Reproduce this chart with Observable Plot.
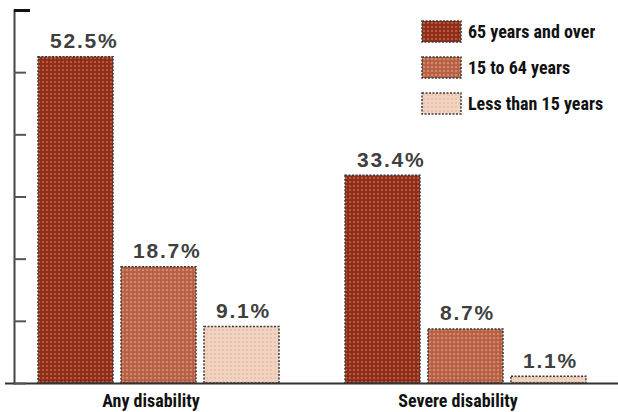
<!DOCTYPE html>
<html>
<head>
<meta charset="utf-8">
<script src="https://cdn.jsdelivr.net/npm/d3@7"></script>
<script src="https://cdn.jsdelivr.net/npm/@observablehq/plot@0.6"></script>
<style>
  body { margin: 0; background: #fff; }
  #chart { position: relative; width: 618px; height: 412px; }
  #key { position: absolute; left: 422px; top: 21px; }
  #key .agekey-swatches { font: bold 18px "Roboto Condensed", "Liberation Sans", sans-serif !important; color: #111 !important; margin: 0 !important; }
  #key .agekey-swatch { height: 21px; margin-bottom: 15px; padding-bottom: 0 !important; }
  #key .agekey-swatch svg { margin-right: 7px !important; overflow: visible; }
  #key .agekey-swatch svg rect { stroke: #3a3a3a; stroke-width: 1.5; stroke-dasharray: 2 1.5; }
  .value-label text { letter-spacing: 1.8px; }
</style>
</head>
<body>
<svg width="0" height="0" style="position:absolute">
  <defs>
    <pattern id="dots-old" width="4" height="4" patternUnits="userSpaceOnUse">
      <rect width="4" height="4" fill="#912d1f"/>
      <circle cx="2" cy="2" r="0.9" fill="#c8733a"/>
      <circle cx="0" cy="0" r="0.7" fill="#6f1d13"/>
    </pattern>
    <pattern id="dots-mid" width="4" height="4" patternUnits="userSpaceOnUse">
      <rect width="4" height="4" fill="#b9614b"/>
      <circle cx="2" cy="2" r="0.9" fill="#dca067"/>
      <circle cx="0" cy="0" r="0.7" fill="#9a4a35"/>
    </pattern>
    <pattern id="dots-young" width="4" height="4" patternUnits="userSpaceOnUse">
      <rect width="4" height="4" fill="#f1d3c1"/>
      <circle cx="2" cy="2" r="0.9" fill="#e6bca3"/>
    </pattern>
  </defs>
</svg>
<div id="chart"><div id="key"></div></div>
<script>
// Share of each age group reporting a disability, in percent
const groups = ["Any disability", "Severe disability"];
const ages = ["65 years and over", "15 to 64 years", "Less than 15 years"];
const anyDisability = [52.5, 18.7, 9.1];
const severeDisability = [33.4, 8.7, 1.1];
const yTicks = [0, 10, 20, 30, 40, 50, 60];
const ageFills = ["url(#dots-old)", "url(#dots-mid)", "url(#dots-young)"];

const rows = [
  ...ages.map((age, i) => ({group: groups[0], age, value: anyDisability[i]})),
  ...ages.map((age, i) => ({group: groups[1], age, value: severeDisability[i]}))
];

const colorScale = {type: "ordinal", domain: ages, range: ageFills};

const chart = Plot.plot({
  width: 618,
  height: 412,
  marginTop: 10,
  marginBottom: 29,
  marginLeft: 13,
  marginRight: 7,
  style: {background: "#fff"},
  fx: {domain: groups, paddingInner: 0.0584, paddingOuter: 0},
  x: {domain: ages, paddingInner: 0.096, paddingOuter: 0.284, axis: null},
  y: {domain: [0, 60], axis: null},
  color: colorScale,
  marks: [
    Plot.barY(rows, {
      fx: "group", x: "age", y: "value", fill: "age",
      stroke: "#3a3a3a", strokeWidth: 1.5, strokeDasharray: "2,1.5"
    }),
    Plot.text(rows, {
      fx: "group", x: "age", y: "value",
      text: d => d.value.toFixed(1) + "%",
      textAnchor: "start", lineAnchor: "bottom", dx: -26, dy: -9,
      fontFamily: "Liberation Sans, Arial, sans-serif", fontWeight: "bold",
      fontSize: 21, fill: "#3f3f3f", className: "value-label"
    }),
    Plot.ruleY([0], {stroke: "#333", strokeWidth: 2, insetLeft: -9, insetRight: -9}),
    Plot.frame({anchor: "left", facetAnchor: "left", stroke: "#444", strokeWidth: 2}),
    Plot.axisY({ticks: yTicks, tickSize: -12, tickFormat: () => "", label: null, stroke: "#555", strokeWidth: 2}),
    Plot.axisY({ticks: [60], tickSize: -16, tickFormat: () => "", label: null, stroke: "#111", strokeWidth: 3}),
    Plot.axisFx({
      anchor: "bottom", tickSize: 0, tickPadding: 11, label: null, dx: -8,
      fontFamily: "Roboto Condensed, Liberation Sans, sans-serif",
      fontWeight: "bold", fontSize: 18, fill: "#111"
    })
  ]
});

const chartBox = document.getElementById("chart");
chartBox.insertBefore(chart, chartBox.firstChild);

const key = Plot.legend({
  color: colorScale,
  legend: "swatches",
  columns: 1,
  swatchWidth: 39,
  swatchHeight: 21,
  className: "agekey"
});
document.getElementById("key").appendChild(key);
</script>
</body>
</html>
